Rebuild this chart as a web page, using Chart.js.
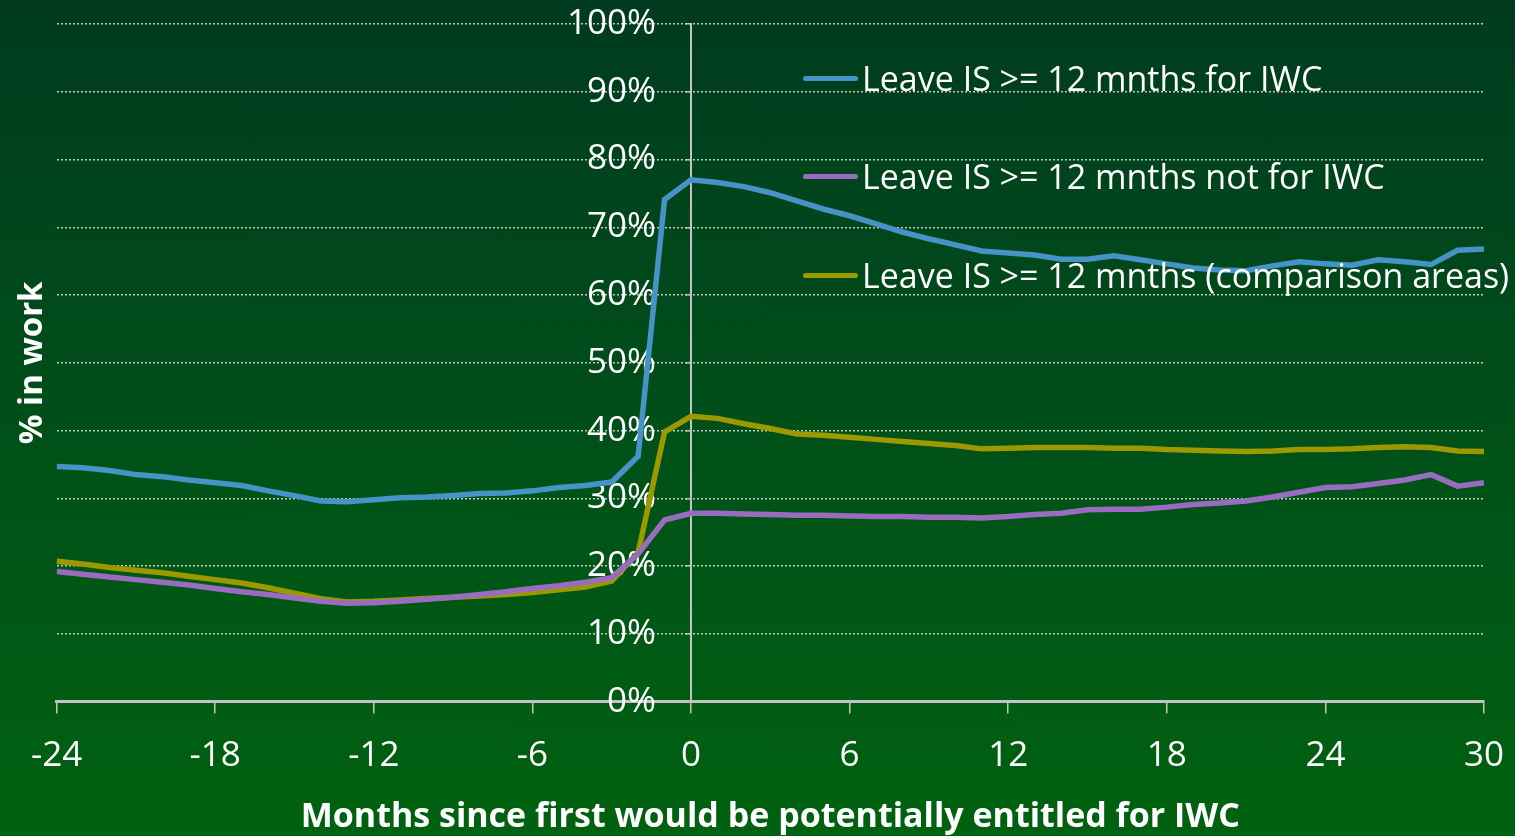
<!DOCTYPE html>
<html>
<head>
<meta charset="utf-8">
<script src="https://cdn.jsdelivr.net/npm/chart.js@4.4.1/dist/chart.umd.min.js"></script>
<style>
    html, body { margin: 0; padding: 0; }
    body { width: 1515px; height: 836px; overflow: hidden; }
    #wrap {
        position: relative;
        width: 1515px;
        height: 836px;
        background: linear-gradient(to bottom, #003b1f 0%, #004f19 50%, #006210 100%);
        font-family: 'Open Sans', sans-serif;
    }
    #legend { position: absolute; left: 803px; top: 0; }
    .leg-item { position: absolute; left: 0; white-space: nowrap; display: flex; align-items: center; height: 40px; }
    .leg-line { width: 55px; height: 5px; border-radius: 3px; margin-right: 4px; }
    .leg-text { color: #fff; font-size: 34px; }
</style>
</head>
<body>
<div id="wrap">
    <canvas id="chart" width="1515" height="836"></canvas>
    <div id="legend"></div>
</div>
<script>
const months = [-24, -23, -22, -21, -20, -19, -18, -17, -16, -15, -14, -13, -12, -11, -10, -9, -8, -7, -6, -5, -4, -3, -2, -1,
    0, 1, 2, 3, 4, 5, 6, 7, 8, 9, 10, 11, 12, 13, 14, 15, 16, 17, 18, 19, 20, 21, 22, 23, 24, 25, 26, 27, 28, 29, 30];

const seriesLabels = [
    'Leave IS >= 12 mnths for IWC',
    'Leave IS >= 12 mnths not for IWC',
    'Leave IS >= 12 mnths (comparison areas)'
];

const forIwc = [34.7, 34.5, 34.1, 33.5, 33.2, 32.7, 32.3, 31.9, 31.1, 30.4, 29.6, 29.5, 29.8, 30.1, 30.2, 30.4, 30.7, 30.8, 31.1, 31.6, 31.9, 32.4, 36.2, 74.1,
    77.0, 76.6, 76.0, 75.1, 73.9, 72.7, 71.7, 70.5, 69.3, 68.3, 67.4, 66.5, 66.2, 65.9, 65.3, 65.3, 65.8, 65.2, 64.6, 64.0, 63.7, 63.6, 64.3, 64.9, 64.6, 64.4, 65.2, 64.9, 64.5, 66.6, 66.8];

const notForIwc = [19.2, 18.8, 18.4, 18.0, 17.6, 17.2, 16.7, 16.2, 15.8, 15.3, 14.8, 14.5, 14.6, 14.8, 15.1, 15.4, 15.8, 16.2, 16.7, 17.1, 17.6, 18.3, 21.8, 26.8,
    27.8, 27.8, 27.7, 27.6, 27.5, 27.5, 27.4, 27.3, 27.3, 27.2, 27.2, 27.1, 27.3, 27.6, 27.8, 28.3, 28.4, 28.4, 28.7, 29.1, 29.3, 29.6, 30.2, 30.9, 31.6, 31.7, 32.2, 32.7, 33.5, 31.8, 32.3];

const comparison = [20.7, 20.3, 19.8, 19.4, 19.0, 18.5, 18.0, 17.5, 16.8, 16.0, 15.2, 14.7, 14.8, 15.0, 15.2, 15.4, 15.6, 15.8, 16.1, 16.5, 16.9, 17.8, 22.0, 39.8,
    42.1, 41.8, 41.0, 40.3, 39.5, 39.3, 39.0, 38.7, 38.4, 38.1, 37.8, 37.3, 37.4, 37.5, 37.5, 37.5, 37.4, 37.4, 37.2, 37.1, 37.0, 36.9, 37.0, 37.2, 37.2, 37.3, 37.5, 37.6, 37.5, 37.0, 36.9];

const seriesColors = ['#4593c7', '#9a6cc0', '#9c9900'];

function toPoints(values) {
    return months.map((m, i) => ({ x: m, y: values[i] }));
}

const gridGray = 'rgba(225, 225, 225, 0.85)';
const axisGray = '#c4c4c4';

const chart = new Chart(document.getElementById('chart'), {
    type: 'line',
    data: {
        datasets: [forIwc, notForIwc, comparison].map((vals, i) => ({
            label: seriesLabels[i],
            data: toPoints(vals),
            borderColor: seriesColors[i],
            backgroundColor: seriesColors[i],
            borderWidth: 5.5,
            pointRadius: 0,
            tension: 0,
            yAxisID: 'y'
        }))
    },
    options: {
        responsive: false,
        animation: false,
        layout: { padding: { top: 4, right: 31, bottom: 0, left: 0 } },
        plugins: {
            legend: { display: false },
            tooltip: { enabled: false }
        },
        scales: {
            x: {
                type: 'linear',
                min: -24,
                max: 30,
                // the "30" label may hang past the plot edge, as in the original
                afterFit: scale => { scale.paddingRight = 0; },
                ticks: {
                    stepSize: 6,
                    color: '#fff',
                    font: { family: 'Open Sans', size: 35 },
                    padding: 21,
                    maxRotation: 0
                },
                grid: {
                    drawOnChartArea: false,
                    tickLength: 12,
                    tickColor: axisGray,
                    lineWidth: 1.5
                },
                border: { color: axisGray, width: 3 },
                title: {
                    display: true,
                    text: 'Months since first would be potentially entitled for IWC',
                    color: '#fff',
                    font: { family: 'Open Sans', size: 34, weight: 'bold', lineHeight: 1.1 },
                    padding: { top: 1, bottom: 0 }
                }
            },
            yLeft: {
                type: 'linear',
                position: 'left',
                min: 0,
                max: 100,
                ticks: { stepSize: 10, display: false },
                grid: {
                    color: gridGray,
                    lineWidth: 1.5,
                    drawTicks: false
                },
                border: { display: false, dash: [2, 2] },
                title: {
                    display: true,
                    text: '% in work',
                    color: '#fff',
                    font: { family: 'Open Sans', size: 33, weight: 'bold' },
                    padding: { top: 13, bottom: 4 }
                }
            },
            y: {
                type: 'linear',
                position: { x: 0 },
                min: 0,
                max: 100,
                z: 1,
                ticks: {
                    stepSize: 10,
                    color: '#fff',
                    font: { family: 'Open Sans', size: 35 },
                    // labels of an axis placed at x=0 get no padding, so an em space keeps them off the line
                    callback: v => v + '%\u2003'
                },
                grid: {
                    drawOnChartArea: false,
                    tickLength: 5,
                    tickColor: axisGray,
                    lineWidth: 1.5
                },
                border: { color: axisGray, width: 2 }
            }
        }
    }
});

// legend sits inside the plot, on the right
const legendEl = document.getElementById('legend');
const legendRows = [78, 176, 275];
chart.data.datasets.forEach((ds, i) => {
    const item = document.createElement('div');
    item.className = 'leg-item';
    item.style.top = (legendRows[i] - 20) + 'px';
    item.innerHTML = '<span class="leg-line" style="background:' + ds.borderColor + '"></span>' +
        '<span class="leg-text">' + ds.label + '</span>';
    legendEl.appendChild(item);
});
</script>
</body>
</html>
